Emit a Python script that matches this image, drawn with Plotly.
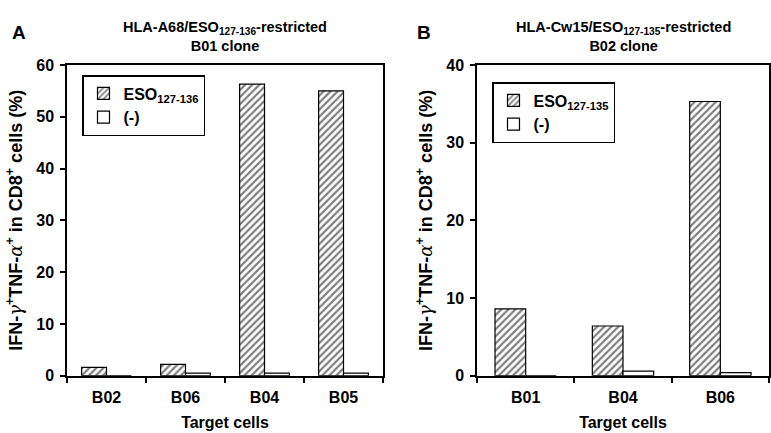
import plotly.graph_objects as go

# Panel A data
cats_a = ["B02", "B06", "B04", "B05"]
eso_a = [1.6, 2.2, 56.3, 55.0]
neg_a = [0.0, 0.5, 0.5, 0.5]

# Panel B data
cats_b = ["B01", "B04", "B06"]
eso_b = [8.6, 6.4, 35.3]
neg_b = [0.0, 0.6, 0.4]

FONT = "Liberation Sans, Arial, sans-serif"
W, H = 771, 433


def px(x):  # reference x pixel -> paper fraction
    return x / W


def py(y):  # reference y pixel (from top) -> paper fraction
    return 1 - y / H


hatch = dict(shape="/", fgcolor="black", bgcolor="white", size=5, solidity=0.45)
line = dict(color="black", width=1.2)

fig = go.Figure()
fig.add_trace(go.Bar(x=cats_a, y=eso_a, name="<b>ESO<sub>127-136</sub></b>",
                     marker=dict(color="white", pattern=hatch, line=line),
                     xaxis="x", yaxis="y", legend="legend", legendgroup="a1"))
fig.add_trace(go.Bar(x=cats_a, y=neg_a, name="<b>(-)</b>",
                     marker=dict(color="white", line=line),
                     xaxis="x", yaxis="y", legend="legend", legendgroup="a2"))
fig.add_trace(go.Bar(x=cats_b, y=eso_b, name="<b>ESO<sub>127-135</sub></b>",
                     marker=dict(color="white", pattern=hatch, line=line),
                     xaxis="x2", yaxis="y2", legend="legend2", legendgroup="b1"))
fig.add_trace(go.Bar(x=cats_b, y=neg_b, name="<b>(-)</b>",
                     marker=dict(color="white", line=line),
                     xaxis="x2", yaxis="y2", legend="legend2", legendgroup="b2"))

ydom = [py(375.7), py(65)]
xdomA = [px(67), px(383)]
xdomB = [px(477), px(769)]

axfont = dict(family=FONT, size=16, color="black", weight="bold")
ytfont = dict(family=FONT, size=18, color="black", weight="bold")
GR = '<span style="font-family:DejaVu Serif;font-weight:normal;font-style:italic">'
ytitle = ("IFN-" + GR + "γ</span><sup>+</sup>TNF-" + GR + "α</span><sup>+</sup>"
          " in CD8<sup>+</sup> cells (%)")

common_x = dict(type="category", showline=True, mirror=True, linecolor="black", linewidth=1.5,
                ticks="outside", ticklen=6, tickwidth=1.5, tickcolor="black", tickson="boundaries",
                tickfont=axfont, showgrid=False, zeroline=False, automargin=False,
                ticklabelstandoff=6,
                title=dict(text="Target cells", font=axfont, standoff=12))
common_y = dict(showline=True, mirror=True, linecolor="black", linewidth=1.5,
                ticks="outside", ticklen=5, tickwidth=1.5, tickcolor="black",
                tickfont=axfont, showgrid=False, zeroline=False, dtick=10, automargin=False,
                ticklabelstandoff=3,
                title=dict(text=ytitle, font=ytfont, standoff=9))

legfont = dict(family=FONT, size=16, color="black")

fig.update_layout(
    width=W, height=H, autosize=False,
    margin=dict(l=0, r=0, t=0, b=0, pad=0, autoexpand=False),
    paper_bgcolor="white", plot_bgcolor="white",
    font=dict(family=FONT, color="black"),
    barmode="group", bargap=0.37, bargroupgap=0,
    xaxis=dict(domain=xdomA, anchor="y", **common_x),
    yaxis=dict(domain=ydom, anchor="x", range=[0, 60], **common_y),
    xaxis2=dict(domain=xdomB, anchor="y2", **common_x),
    yaxis2=dict(domain=ydom, anchor="x2", range=[0, 40], **common_y),
    legend=dict(x=px(82), y=py(75), xanchor="left", yanchor="top",
                bordercolor="black", borderwidth=1.5, bgcolor="white",
                font=legfont, tracegroupgap=8, itemwidth=30, traceorder="normal"),
    legend2=dict(x=px(492), y=py(82), xanchor="left", yanchor="top",
                 bordercolor="black", borderwidth=1.5, bgcolor="white",
                 font=legfont, tracegroupgap=8, itemwidth=30, traceorder="normal"),
    annotations=[
        dict(text="<b>A</b>", x=px(10), y=py(20), xref="paper", yref="paper",
             xanchor="left", yanchor="top", showarrow=False, font=dict(size=19, family=FONT)),
        dict(text="<b>B</b>", x=px(415), y=py(20), xref="paper", yref="paper",
             xanchor="left", yanchor="top", showarrow=False, font=dict(size=19, family=FONT)),
        dict(text="<b>HLA-A68/ESO<sub>127-136</sub>-restricted<br>B01 clone</b>",
             x=(xdomA[0] + xdomA[1]) / 2, y=py(17), xref="paper", yref="paper",
             xanchor="center", yanchor="top", showarrow=False,
             font=dict(size=14.5, family=FONT)),
        dict(text="<b>HLA-Cw15/ESO<sub>127-135</sub>-restricted<br>B02 clone</b>",
             x=(xdomB[0] + xdomB[1]) / 2, y=py(17), xref="paper", yref="paper",
             xanchor="center", yanchor="top", showarrow=False,
             font=dict(size=14.5, family=FONT)),
    ],
)

page_fix = (
    "var d=document.documentElement,b=document.body;"
    "d.style.margin='0';d.style.padding='0';d.style.overflow='hidden';"
    "b.style.margin='0';b.style.padding='0';b.style.overflow='hidden';"
)

fig.write_html("out.html", config={"displayModeBar": False}, post_script=page_fix)
